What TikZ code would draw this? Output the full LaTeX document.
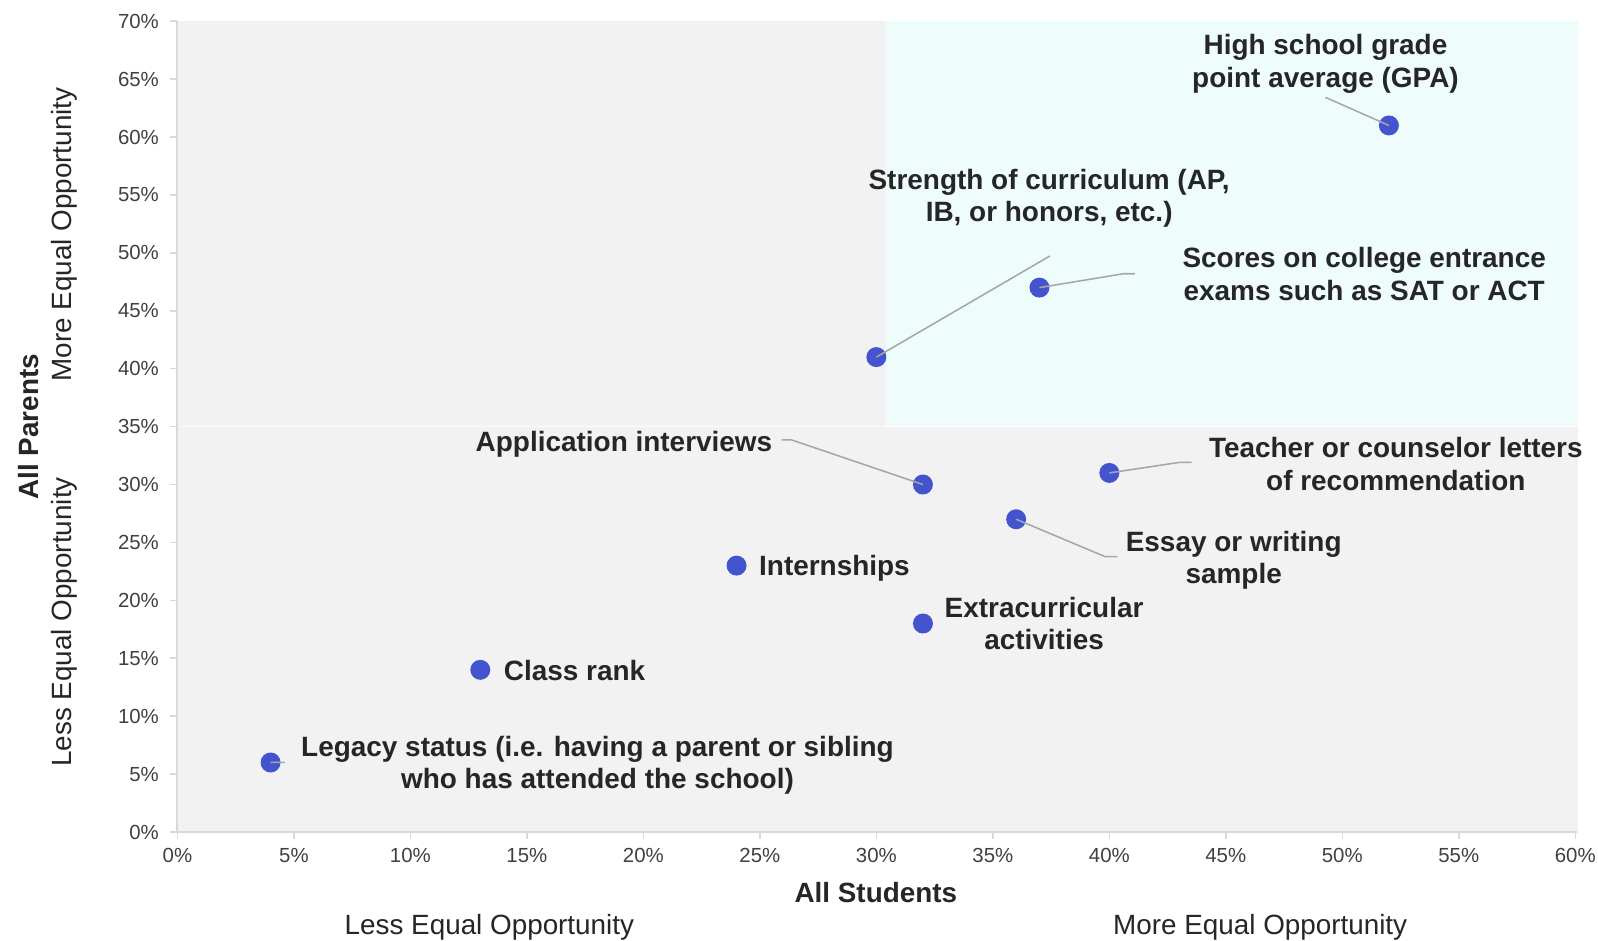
\documentclass[tikz,border=0pt]{standalone}
\usepackage{fontspec}
\setmainfont{Liberation Sans}
\usetikzlibrary{positioning}
\tikzset{>=latex}
\definecolor{plotgray}{RGB}{242,242,242}
\definecolor{plotcyan}{RGB}{238,252,252}
\definecolor{axisgray}{RGB}{217,217,217}
\definecolor{leadgray}{RGB}{166,166,166}
\definecolor{dotblue}{RGB}{68,84,206}
\definecolor{txtdark}{RGB}{38,38,38}
\definecolor{ticktxt}{RGB}{64,64,64}
\tikzset{
  datadot/.style={circle,fill=dotblue,inner sep=0pt,minimum size=19.6bp},
  lbl/.style={font=\fontsize{27.4bp}{31.6bp}\selectfont\bfseries,text=txtdark,align=center,inner sep=0pt},
  leader/.style={draw=leadgray,line width=1.5bp},
  ticklbl/.style={font=\fontsize{20bp}{24bp}\selectfont,text=ticktxt,inner sep=0pt},
  axtitle/.style={font=\fontsize{27.3bp}{31.6bp}\selectfont,text=txtdark,inner sep=0pt}
}

\begin{document}
\begin{tikzpicture}[x=1bp,y=-1bp]
\useasboundingbox[fill=white] (0,0) rectangle (1567.3,922.9);
% plot background
\fill[plotgray] (174,20.8) rectangle (1548,816);
\fill[plotcyan] (869,20.8) rectangle (1548,417.8);
\draw[white!60!plotgray,line width=1bp] (174,418.5) -- (869,418.5);
\draw[white,line width=1.2bp] (869,418.5) -- (1548,418.5);
% axes and ticks
\draw[axisgray,line width=2bp] (174,20.8) -- (174,816) -- (1547,816);
\foreach \v in {0,5,...,70} {
  \draw[axisgray,line width=1.5bp] (167,{816-\v*11.36}) -- (174,{816-\v*11.36});
  \node[ticklbl,anchor=east] (yt\v) at (156,{816-\v*11.36}) {\v\%};
}
\foreach \v in {0,5,...,60} {
  \draw[axisgray,line width=1.5bp] ({174+\v*22.85},816) -- ({174+\v*22.85},823);
  \node[ticklbl] (xt\v) at ({174+\v*22.85},839.5) {\v\%};
}
% axis titles
\node[axtitle,font=\fontsize{27.3bp}{31.6bp}\selectfont\bfseries,anchor=base] (xtitle) at (859,885) {All Students};
\node[axtitle,anchor=base] (xless) at (480,916.5) {Less Equal Opportunity};
\node[axtitle,anchor=base] (xmore) at (1236,916.5) {More Equal Opportunity};
\node[axtitle,font=\fontsize{27.3bp}{31.6bp}\selectfont\bfseries,anchor=base,rotate=90] (ytitle) at (37.5,418.5) {All Parents};
\node[axtitle,anchor=base,rotate=90] (ymore) at (70,230) {More Equal Opportunity};
\node[axtitle,anchor=base,rotate=90] (yless) at (70,610) {Less Equal Opportunity};
% data points (students %, parents %)
\begin{scope}[shift={(174,816)},x=22.85bp,y=11.36bp]
\node[datadot] (gpa) at (52,61) {};
\node[datadot] (curric) at (30,41) {};
\node[datadot] (exams) at (37,47) {};
\node[datadot] (interview) at (32,30) {};
\node[datadot] (letters) at (40,31) {};
\node[datadot] (essay) at (36,27) {};
\node[datadot] (intern) at (24,23) {};
\node[datadot] (extra) at (32,18) {};
\node[datadot] (rank) at (13,14) {};
\node[datadot] (legacy) at (4,6) {};
\end{scope}
% labels
\node[lbl] (gpalbl) at (1300,62.7) {High school grade\\point average (GPA)};
\node[lbl] (curriclbl) at (1029,194.2) {Strength of curriculum (AP,\\IB, or honors, etc.)};
\node[lbl] (examslbl) at (1338,268.8) {Scores on college entrance\\exams such as SAT or ACT};
\node[lbl,anchor=base] (interviewlbl) at (612,443) {Application interviews};
\node[lbl] (letterslbl) at (1369,455) {Teacher or counselor letters\\of recommendation};
\node[lbl] (essaylbl) at (1210,549.8) {Essay or writing\\sample};
\node[lbl,anchor=base west] (internlbl) at (744.4,564.6) {Internships};
\node[lbl] (extralbl) at (1024,611.5) {Extracurricular\\activities};
\node[lbl,anchor=base west] (ranklbl) at (494,667) {Class rank};
\node[lbl] (legacylbl) at (586,750.8) {Legacy status (i.e. having a parent or sibling\\who has attended the school)};
% leader lines
\coordinate (gpaend) at (1300,95.5);
\coordinate (curricend) at (1029.8,251);
\coordinate (examsbend) at (1101.7,268.5);
\coordinate (examsend) at (1113,268.5);
\coordinate (interviewend) at (766.7,431.5);
\coordinate (interviewbend) at (776.5,431.5);
\coordinate (lettersbend) at (1157.3,453.4);
\coordinate (lettersend) at (1168.8,453.4);
\coordinate (essaybend) at (1084,546);
\coordinate (essayend) at (1096,546);
\coordinate (legacyend) at (279.5,747.7);
\draw[leader] (gpa.center) -- (gpaend);
\draw[leader] (curric.center) -- (curricend);
\draw[leader] (exams.center) -- (examsbend) -- (examsend);
\draw[leader] (interviewend) -- (interviewbend) -- (interview.center);
\draw[leader] (letters.center) -- (lettersbend) -- (lettersend);
\draw[leader] (essay.center) -- (essaybend) -- (essayend);
\draw[leader] (legacy.center) -- (legacyend);
\end{tikzpicture}
\end{document}
